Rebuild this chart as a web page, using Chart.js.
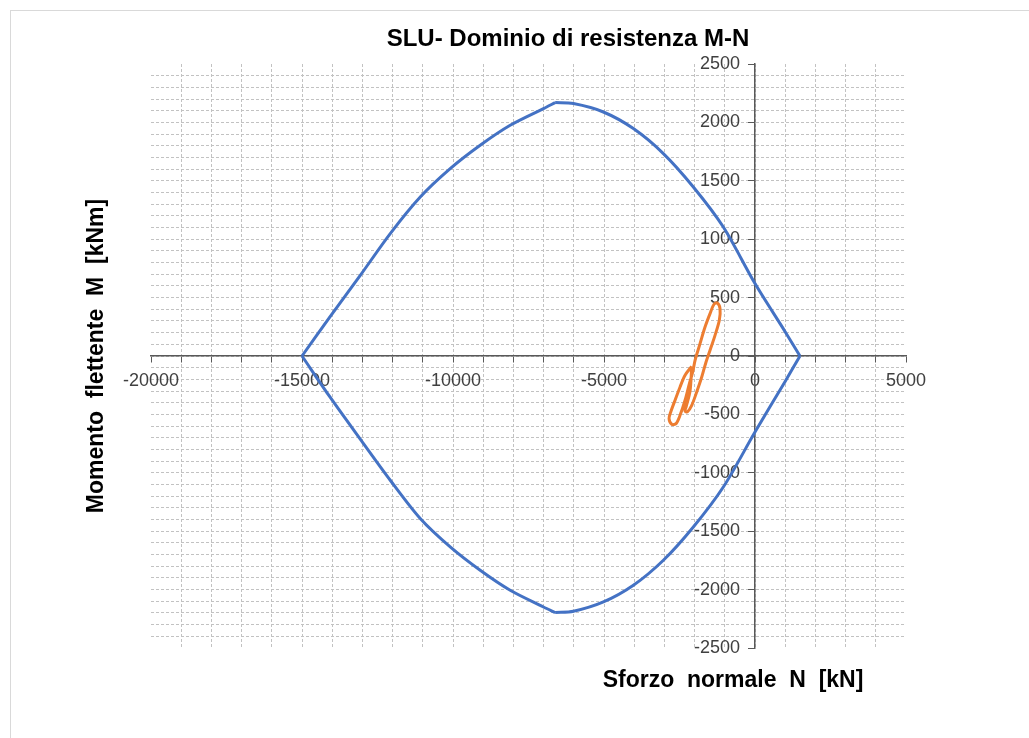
<!DOCTYPE html>
<html lang="it">
<head>
<meta charset="utf-8">
<title>SLU- Dominio di resistenza M-N</title>
<script src="https://cdn.jsdelivr.net/npm/chart.js@4.4.0/dist/chart.umd.min.js"></script>
<style>
  body { margin: 0; background: #fff; }
  #box { width: 1029px; height: 738px; }
</style>
</head>
<body>
<div id="box"><canvas id="graficoDominio"></canvas></div>
<script>
// Dominio di resistenza (N in kN, M in kNm)
const dominioN = [-15000, -14063, -13071, -12078, -11085, -10093, -9100, -8107, -7005, -6618,
  -6012, -5020, -4027, -3034, -2042, -1049, 0, 993, 1489,
  993, 0, -1049, -2042, -3034, -4027, -5020, -6012, -6618, -7005,
  -8107, -9100, -10093, -11085, -12078, -13071, -14063, -15000];
const dominioM = [0, 340, 690, 1048, 1361, 1604, 1804, 1975, 2118, 2170,
  2161, 2089, 1947, 1733, 1447, 1104, 620, 210, 0,
  -220, -651, -1122, -1464, -1749, -1963, -2106, -2186, -2197, -2149,
  -2006, -1835, -1635, -1392, -1064, -712, -355, 0];
// indici dei vertici (spigoli vivi del dominio)
const vertici = [0, 9, 18, 27, 36];

// Sollecitazioni di progetto
const sollN = [-2095, -2316, -2482, -2647, -2790, -2846, -2757, -2614, -2482, -2316,
  -2173, -2062, -1985, -1820, -1655, -1489, -1357, -1247, -1158, -1181,
  -1324, -1489, -1621, -1764, -1930, -2095, -2240, -2316, -2283, -2151, -2095];
const sollM = [-88, -165, -265, -379, -479, -536, -585, -579, -508, -379,
  -236, -137, -37, 106, 248, 363, 443, 454, 406, 306,
  177, 49, -51, -180, -308, -422, -479, -471, -437, -300, -88];

const xMin = -20000, xMax = 5000, xStep = 1000, xLabelStep = 5000;
const yMin = -2500, yMax = 2500, yStep = 100, yLabelStep = 500;

const punti = (n, m) => n.map((v, i) => ({ x: v, y: m[i] }));

const grigioGriglia = "#c2c2c2";
const grigioAssi = "#595959";
const fontAssi = { family: "'Liberation Sans', Arial, sans-serif", size: 18 };

// il dominio è diviso in tratti fra i vertici, così gli spigoli restano vivi
const tratti = vertici.slice(0, -1).map((da, k) => ({
  label: "Dominio",
  data: punti(dominioN.slice(da, vertici[k + 1] + 1), dominioM.slice(da, vertici[k + 1] + 1)),
  showLine: true,
  borderColor: "#4472c4",
  backgroundColor: "#4472c4",
  borderWidth: 3,
  pointRadius: 0,
  tension: 0.3,
}));

// cornice e titoli
const decorazioni = {
  id: "decorazioni",
  beforeDraw(chart) {
    const c = chart.ctx;
    c.save();
    c.strokeStyle = "#d9d9d9";
    c.lineWidth = 1;
    c.strokeRect(10.5, 10.5, 1200, 1000);
    c.restore();
  },
  afterDraw(chart) {
    const c = chart.ctx;
    c.save();
    c.fillStyle = "#000";
    c.textAlign = "center";
    c.textBaseline = "middle";
    c.font = "bold 24px 'Liberation Sans', Arial, sans-serif";
    c.fillText("SLU- Dominio di resistenza M-N", 568, 39);
    c.font = "bold 23px 'Liberation Sans', Arial, sans-serif";
    c.fillText("Sforzo  normale  N  [kN]", 733, 681);
    c.translate(97, 356);
    c.rotate(-Math.PI / 2);
    c.fillText("Momento  flettente  M  [kNm]", 0, 0);
    c.restore();
  },
};

const ctxDominio = document.getElementById("graficoDominio").getContext("2d");
new Chart(ctxDominio, {
  type: "scatter",
  data: {
    datasets: [
      ...tratti,
      {
        label: "Sollecitazioni",
        data: punti(sollN, sollM),
        showLine: true,
        borderColor: "#ed7d31",
        backgroundColor: "#ed7d31",
        borderWidth: 3,
        pointRadius: 0,
        tension: 0.3,
      },
    ],
  },
  options: {
    responsive: true,
    maintainAspectRatio: false,
    animation: false,
    layout: { padding: { left: 151, right: 123, top: 64, bottom: 90 } },
    plugins: {
      legend: { display: false },
      title: { display: false },
      tooltip: { enabled: false },
    },
    scales: {
      x: {
        type: "linear",
        min: xMin,
        max: xMax,
        position: { y: 0 },
        ticks: {
          stepSize: xStep,
          maxTicksLimit: 100,
          autoSkip: false,
          maxRotation: 0,
          padding: 8,
          color: "#404040",
          font: fontAssi,
          callback: (v) => (v % xLabelStep === 0 ? v : ""),
        },
        grid: {
          color: (c) => (c.tick && (c.tick.value === xMin || c.tick.value === xMax) ? "transparent" : grigioGriglia),
          lineWidth: 1,
          tickColor: grigioAssi,
          tickLength: 6,
        },
        border: { color: grigioAssi, width: 1.5, dash: [3, 2] },
      },
      y: {
        type: "linear",
        min: yMin,
        max: yMax,
        position: { x: 0 },
        ticks: {
          stepSize: yStep,
          maxTicksLimit: 100,
          autoSkip: false,
          color: "#404040",
          font: fontAssi,
          // etichette staccate dall'asse centrale
          callback: (v) => (v % yLabelStep === 0 ? v + "   " : ""),
        },
        grid: {
          color: (c) => (c.tick && (c.tick.value === yMin || c.tick.value === yMax) ? "transparent" : grigioGriglia),
          lineWidth: 1,
          tickColor: (c) => (c.tick && c.tick.value % yLabelStep === 0 ? grigioAssi : "transparent"),
          tickLength: 6,
        },
        border: { color: grigioAssi, width: 1.5, dash: [3, 2] },
      },
    },
  },
  plugins: [decorazioni],
});
</script>
</body>
</html>
